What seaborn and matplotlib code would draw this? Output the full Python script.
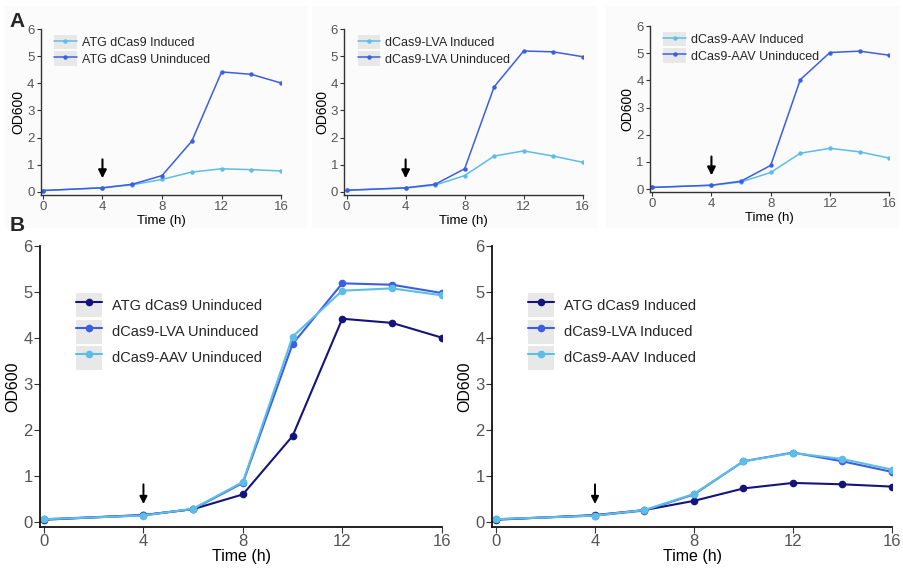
import matplotlib
matplotlib.use("Agg")
import matplotlib.pyplot as plt
from matplotlib.patches import Rectangle
from matplotlib.legend_handler import HandlerTuple
from matplotlib.lines import Line2D
import seaborn as sns
import pandas as pd

sns.set_theme(style="white")
plt.rcParams['font.family'] = ['Liberation Sans', 'DejaVu Sans']

time_h = [0, 4, 6, 8, 10, 12, 14, 16]
atg_uninduced = [0.05, 0.15, 0.28, 0.60, 1.87, 4.42, 4.33, 4.01]
atg_induced = [0.05, 0.15, 0.26, 0.46, 0.73, 0.85, 0.82, 0.77]
lva_uninduced = [0.06, 0.15, 0.28, 0.85, 3.87, 5.19, 5.16, 4.98]
lva_induced = [0.06, 0.14, 0.25, 0.60, 1.32, 1.51, 1.32, 1.09]
aav_uninduced = [0.06, 0.14, 0.29, 0.87, 4.03, 5.03, 5.08, 4.93]
aav_induced = [0.06, 0.14, 0.26, 0.61, 1.32, 1.50, 1.37, 1.14]

x_ticks = [0, 4, 8, 12, 16]
y_ticks = [0, 1, 2, 3, 4, 5, 6]

c_dark = "#14147a"
c_mid = "#3b5fe0"
c_light = "#5cbde6"


def frame(series):
    rows = []
    for name, vals in series:
        for t, v in zip(time_h, vals):
            rows.append({"Time": t, "OD600": v, "Series": name})
    return pd.DataFrame(rows)


fig = plt.figure(figsize=(9.04, 5.69), dpi=100)

# very faint card backgrounds for panel A
for (x0, w) in [(0.005, 0.335), (0.345, 0.315), (0.67, 0.325)]:
    fig.patches.append(Rectangle((x0, 0.6), w, 0.39, transform=fig.transFigure,
                                 facecolor="#fbfbfb", edgecolor="none", zorder=-10))

panelA = [
    ([0.045, 0.658, 0.266, 0.291], [("ATG dCas9 Induced", atg_induced, c_light),
                                     ("ATG dCas9 Uninduced", atg_uninduced, c_mid)]),
    ([0.381, 0.658, 0.2635, 0.291], [("dCas9-LVA Induced", lva_induced, c_light),
                                      ("dCas9-LVA Uninduced", lva_uninduced, c_mid)]),
    ([0.719, 0.663, 0.2646, 0.291], [("dCas9-AAV Induced", aav_induced, c_light),
                                      ("dCas9-AAV Uninduced", aav_uninduced, c_mid)]),
]

panelB = [
    ([0.0446, 0.0745, 0.444, 0.493], [("ATG dCas9 Uninduced", atg_uninduced, c_dark),
                                       ("dCas9-LVA Uninduced", lva_uninduced, c_mid),
                                       ("dCas9-AAV Uninduced", aav_uninduced, c_light)]),
    ([0.5446, 0.0745, 0.442, 0.493], [("ATG dCas9 Induced", atg_induced, c_dark),
                                       ("dCas9-LVA Induced", lva_induced, c_mid),
                                       ("dCas9-AAV Induced", aav_induced, c_light)]),
]


def draw(rect, series, small):
    ax = fig.add_axes(rect)
    ax.patch.set_alpha(0)
    df = frame([(n, v) for n, v, c in series])
    pal = {n: c for n, v, c in series}
    ms = 3.2 if small else 5.5
    lw = 1.1 if small else 1.5
    sns.lineplot(data=df, x="Time", y="OD600", hue="Series", palette=pal,
                 hue_order=[n for n, v, c in series], marker="o", markersize=ms,
                 markeredgewidth=0, linewidth=lw, ax=ax, legend=False)
    ax.set_xlim(-0.15, 16)
    ax.set_ylim(-0.1, 6)
    ax.set_xticks(x_ticks)
    ax.set_yticks(y_ticks)
    fs = 9.5 if small else 12
    ax.tick_params(axis="both", which="both", direction="out", length=3 if small else 4,
                   width=0.8, colors="#333333", labelcolor="#555555", labelsize=fs,
                   pad=1.5, bottom=True, left=True)
    for s in ["top", "right"]:
        ax.spines[s].set_visible(False)
    for s in ["left", "bottom"]:
        ax.spines[s].set_color("#333333" if small else "#111111")
        ax.spines[s].set_linewidth(1.0 if small else 1.3)
    ax.set_xlabel("Time (h)", fontsize=9.5 if small else 11.5, color="black",
                  labelpad=1.5 if small else 0)
    ax.set_ylabel("OD600", fontsize=10 if small else 11.5, color="black", labelpad=1 if small else 2)

    # legend with grey key boxes
    handles = []
    for n, v, c in series:
        box = Rectangle((0, 0), 1, 1, facecolor="#e8e8e8", edgecolor="none")
        ln = Line2D([], [], color=c, marker="o", markersize=ms, markeredgewidth=0, linewidth=lw)
        handles.append((box, ln))
    if small:
        ax.legend(handles, [n for n, v, c in series], handler_map={tuple: HandlerTuple(ndivide=1)},
                  loc="upper left", bbox_to_anchor=(0.035, 0.995), frameon=False,
                  fontsize=9, handlelength=1.8, handleheight=1.4, labelspacing=0.15,
                  handletextpad=0.4, borderaxespad=0)
    else:
        ax.legend(handles, [n for n, v, c in series], handler_map={tuple: HandlerTuple(ndivide=1)},
                  loc="upper left", bbox_to_anchor=(0.075, 0.852), frameon=False,
                  fontsize=10.5, handlelength=1.75, handleheight=2.15, labelspacing=0.15,
                  handletextpad=0.7, borderaxespad=0)
    # induction arrow
    if small:
        ax.annotate("", xy=(4, 0.4), xytext=(4, 1.3),
                    arrowprops=dict(arrowstyle="-|>", color="black", lw=1.5, mutation_scale=12))
    else:
        ax.annotate("", xy=(4, 0.33), xytext=(4, 0.88),
                    arrowprops=dict(arrowstyle="-|>", color="black", lw=1.4, mutation_scale=11))
    return ax


for rect, series in panelA:
    draw(rect, series, True)
for rect, series in panelB:
    draw(rect, series, False)

fig.text(0.011, 0.962, "A", fontsize=15, fontweight="bold", ha="left", va="center")
fig.text(0.011, 0.604, "B", fontsize=15, fontweight="bold", ha="left", va="center")

fig.savefig("out.png", dpi=100)
